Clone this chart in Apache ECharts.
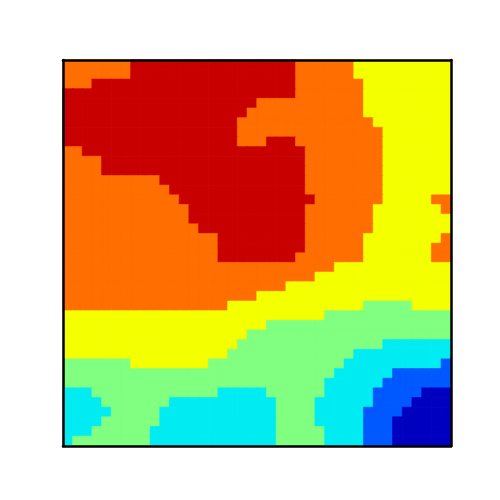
<!DOCTYPE html>
<html>
<head>
<meta charset="utf-8">
<script src="https://cdn.jsdelivr.net/npm/echarts@6/dist/echarts.min.js"></script>
<style>html,body{margin:0;padding:0;background:#fff}#c{width:500px;height:500px}</style>
</head>
<body>
<div id="c"></div>
<script>
// Contour level index per cell (row 0 = top, col 0 = left).
// 0 dark blue .. 6 dark red
const levelRows = [
  "5555555666 6666666666 6666555555 4444444444",
  "5555555666 6666666666 6666555555 4444444444",
  "5556666666 6666666666 6666555555 5444444444",
  "6666666666 6666666666 6666555555 5444444444",
  "6666666666 6666666666 5555555555 5444444444",
  "6666666666 6666666665 5555555555 5444444444",
  "6666666666 6666666655 5555555555 5544444444",
  "6666666666 6666666655 5555555555 5554444444",
  "6666666666 6666666655 5666555555 5554444444",
  "5566666666 6666666666 6666655555 5554444444",
  "5555666666 6666666666 6666655555 5554444444",
  "5555666666 6666666666 6666655555 5554444444",
  "5555555555 6666666666 6666655555 5554444444",
  "5555555555 5666666666 6666655555 5554444444",
  "5555555555 5566666666 6666665555 5554444455",
  "5555555555 5556666666 6666655555 5544444445",
  "5555555555 5556666666 6666655555 5544444444",
  "5555555555 5555666666 6666655555 5544444444",
  "5555555555 5555556666 6666655555 5444444445",
  "5555555555 5555556666 6666655555 5444444455",
  "5555555555 5555556666 6666555555 5444444455",
  "5555555555 5555555555 5555555544 4444444444",
  "5555555555 5555555555 5555554444 4444444444",
  "5555555555 5555555555 5554444444 4444444444",
  "5555555555 5555555555 4444444444 4444444444",
  "5555555555 5555555444 4444444444 4333334444",
  "4444444444 4444444444 4444444333 3333333333",
  "4444444444 4444444444 4333333333 3333333333",
  "4444444444 4444444443 3333333333 3333333333",
  "4444444444 4444444433 3333333333 3332222222",
  "4444444444 4444444333 3333333333 2222222222",
  "3333333444 4444433333 3333333332 2222222221",
  "3333333333 3333333333 3333333322 2222111111",
  "3333333333 3333333333 3333333222 2221111111",
  "2223333333 3333332222 2333333222 2211111000",
  "2222333333 3222222222 2233332222 2211110000",
  "2222233333 2222222222 2233332222 2111100000",
  "2222333333 2222222222 2233332222 2111000000",
  "2223333332 2222222222 2233333222 2111000000",
  "2333333332 2222222222 2233333222 2111000000"
];
const levelColors = ["#0000c0", "#0058ff", "#00ecf2", "#80ff80", "#f4ff00", "#ff6e00", "#c80000"];

const grid = levelRows.map(r => r.replace(/ /g, "").split("").map(Number));
const nRows = grid.length, nCols = grid[0].length;
const xCats = Array.from({length: nCols}, (_, i) => String(i));
const yCats = Array.from({length: nRows}, (_, i) => String(i));
const cells = [];
grid.forEach((row, r) => row.forEach((v, c) => cells.push({
  value: [c, r, v],
  itemStyle: {color: levelColors[v], borderColor: levelColors[v], borderWidth: 0.6}
})));

const chart = echarts.init(document.getElementById('c'), null, {renderer: 'canvas'});
const frame = {show: true, lineStyle: {color: '#000', width: 2.5}};
const hidden = {axisTick: {show: false}, axisLabel: {show: false}, splitLine: {show: false}, z: 10};
chart.setOption({
  animation: false,
  grid: {left: 63, top: 60, width: 388, height: 386},
  xAxis: [
    Object.assign({type: 'category', data: xCats, position: 'bottom', axisLine: frame}, hidden),
    Object.assign({type: 'category', data: xCats, position: 'top', axisLine: frame}, hidden)
  ],
  yAxis: [
    Object.assign({type: 'category', data: yCats, inverse: true, position: 'left', axisLine: frame}, hidden),
    Object.assign({type: 'category', data: yCats, inverse: true, position: 'right', axisLine: frame}, hidden)
  ],
  series: [{
    type: 'heatmap', xAxisIndex: 0, yAxisIndex: 0, data: cells,
    emphasis: {disabled: true}, progressive: 0
  }]
});
</script>
</body>
</html>
